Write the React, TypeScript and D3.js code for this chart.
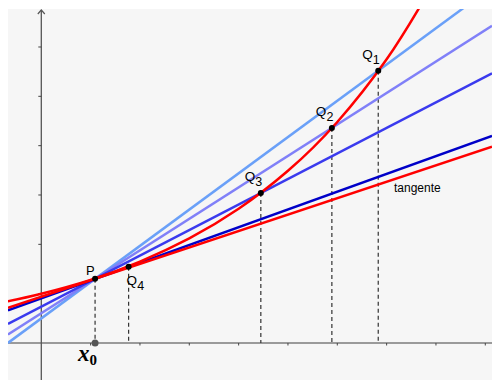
import React, { useEffect, useRef } from 'react';
import * as d3 from 'd3';

// curve (unit coordinates)
const curveX = [-0.7, 0, 1, 2, 3, 4, 5, 6, 7, 7.7];
const curveY = [0.84, 1.0, 1.28, 1.65, 2.12, 2.72, 3.49, 4.48, 5.75, 6.86];

// point P (x0) and secant points Q1..Q4
const pointP = { x: 1.09, y: 1.3 };
const qNames = ['1', '2', '3', '4'];
const qX = [6.83, 5.89, 4.45, 1.77];
const qY = [5.52, 4.36, 3.04, 1.545];
const qColors = ['#6aa0f8', '#8080f8', '#3a3aee', '#0000c8'];
const qLabelDx = [-16, -16, -16, -2];
const qLabelDy = [-12, -12, -12, 18];

const tangentSlope = 0.333;
const xTicks = [1, 2, 3, 4, 5, 6, 7, 8, 9];
const yTicks = [1, 2, 3, 4, 5, 6];

const W = 492;
const H = 380;

export default function App() {
  const ref = useRef<SVGSVGElement>(null);

  useEffect(() => {
    const svg = d3.select(ref.current);
    svg.selectAll('*').remove();

    const x = d3.scaleLinear().domain([-0.675, 9.136]).range([8, W]);
    const y = d3.scaleLinear().domain([-0.75, 6.77]).range([H, 9]);

    svg.append('rect').attr('x', 8).attr('y', 9).attr('width', W - 8).attr('height', H - 9).attr('fill', '#f6f6f6');

    svg.append('clipPath').attr('id', 'plot')
      .append('rect').attr('x', 8).attr('y', 9).attr('width', W - 8).attr('height', H - 9);

    // axes
    const x0px = x(0), y0px = y(0);
    svg.append('line').attr('x1', 8).attr('x2', W).attr('y1', y0px).attr('y2', y0px)
      .attr('stroke', '#9a9a9a').attr('stroke-width', 2);
    svg.selectAll('.xt').data(xTicks).enter().append('line')
      .attr('x1', d => x(d)).attr('x2', d => x(d)).attr('y1', y0px).attr('y2', y0px + 2.5)
      .attr('stroke', '#444').attr('stroke-width', 1);
    svg.append('line').attr('x1', x0px).attr('x2', x0px).attr('y1', 10).attr('y2', H)
      .attr('stroke', '#555').attr('stroke-width', 1.3);
    svg.append('path').attr('d', `M${x0px - 3.5},${14} L${x0px},${10} L${x0px + 3.5},${14}`)
      .attr('fill', 'none').attr('stroke', '#555').attr('stroke-width', 1.2);
    svg.selectAll('.yt').data(yTicks).enter().append('line')
      .attr('x1', x0px - 3).attr('x2', x0px).attr('y1', d => y(d)).attr('y2', d => y(d))
      .attr('stroke', '#444').attr('stroke-width', 1);

    const g = svg.append('g').attr('clip-path', 'url(#plot)');
    const [xa, xb] = x.domain();

    // dashed verticals
    const allX = [pointP.x, ...qX];
    const allY = [pointP.y, ...qY];
    allX.forEach((vx, i) => {
      g.append('line').attr('x1', x(vx)).attr('x2', x(vx)).attr('y1', y(allY[i])).attr('y2', y0px)
        .attr('stroke', '#333').attr('stroke-width', 1.2).attr('stroke-dasharray', '4,3');
    });

    // secants
    qX.forEach((qx, i) => {
      const m = (qY[i] - pointP.y) / (qx - pointP.x);
      g.append('line')
        .attr('x1', x(xa)).attr('y1', y(pointP.y + m * (xa - pointP.x)))
        .attr('x2', x(xb)).attr('y2', y(pointP.y + m * (xb - pointP.x)))
        .attr('stroke', qColors[i]).attr('stroke-width', 2.5);
    });

    // tangent
    g.append('line')
      .attr('x1', x(xa)).attr('y1', y(pointP.y + tangentSlope * (xa - pointP.x)))
      .attr('x2', x(xb)).attr('y2', y(pointP.y + tangentSlope * (xb - pointP.x)))
      .attr('stroke', '#ff0000').attr('stroke-width', 2.5);

    // curve
    const line = d3.line<number>().x((d, i) => x(curveX[i])).y(d => y(d)).curve(d3.curveNatural);
    g.append('path').attr('d', line(curveY)).attr('fill', 'none')
      .attr('stroke', '#ff0000').attr('stroke-width', 2.5);

    // points
    svg.append('circle').attr('cx', x(pointP.x)).attr('cy', y0px).attr('r', 3.5).attr('fill', '#555');
    allX.forEach((vx, i) => {
      svg.append('circle').attr('cx', x(vx)).attr('cy', y(allY[i])).attr('r', 3).attr('fill', '#000');
    });

    // labels
    const font = 'Liberation Sans, Arial, sans-serif';
    svg.append('text').attr('x', x(pointP.x) - 9).attr('y', y(pointP.y) - 4)
      .attr('font-family', font).attr('font-size', 13).text('P');
    qX.forEach((qx, i) => {
      const t = svg.append('text').attr('x', x(qx) + qLabelDx[i]).attr('y', y(qY[i]) + qLabelDy[i])
        .attr('font-family', font).attr('font-size', 13.5);
      t.append('tspan').text('Q');
      t.append('tspan').attr('dy', 5).attr('font-size', 12.5).text(qNames[i]);
    });
    svg.append('text').attr('x', 394).attr('y', 192).attr('font-family', font).attr('font-size', 12)
      .text('tangente');

    const xl = svg.append('text').attr('x', x(pointP.x) - 17).attr('y', 361)
      .attr('font-family', 'Liberation Serif, serif').attr('font-style', 'italic').attr('font-weight', 'bold')
      .attr('font-size', 23);
    xl.append('tspan').text('x');
    xl.append('tspan').attr('dy', 4).attr('font-size', 15).attr('font-style', 'normal').text('0');
  }, []);

  return (
    <svg ref={ref} width={W} height={H} style={{ position: 'absolute', left: 0, top: 0, background: '#fff' }} />
  );
}
